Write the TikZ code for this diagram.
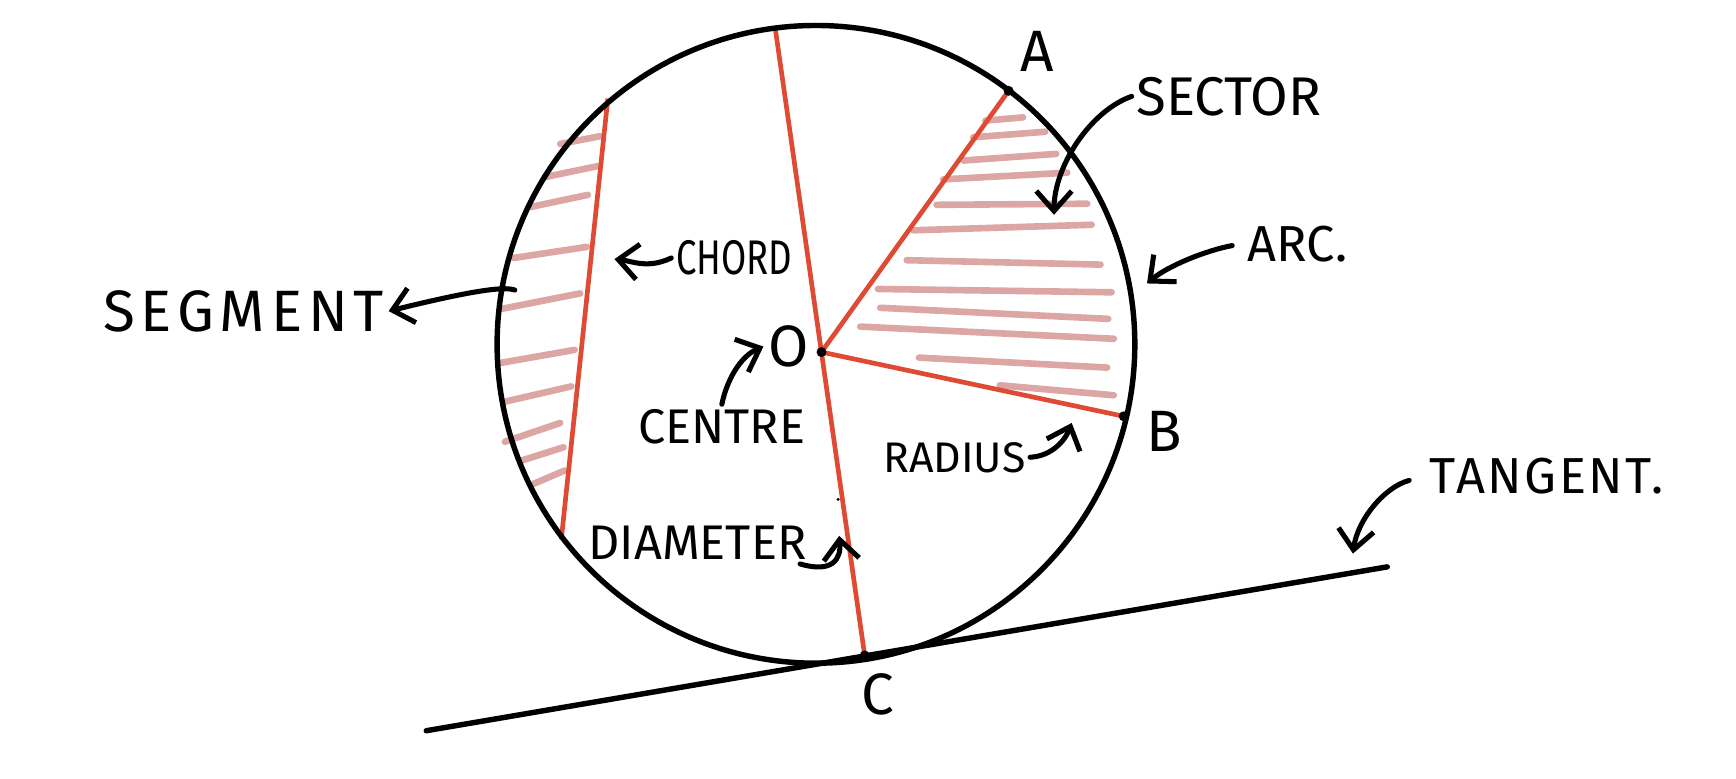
\documentclass[tikz,border=0pt]{standalone}
\usepackage{fontspec}
\setmainfont{Fira Sans}
\usepackage{graphicx}
\usetikzlibrary{arrows.meta}
\definecolor{penred}{HTML}{DE4A33}
\definecolor{hatchpink}{HTML}{DBA6A4}
\tikzstyle{lbl}      = [inner sep=1pt, font=\fontsize{12.5}{14}\selectfont]
\tikzstyle{pointlbl} = [inner sep=1pt, font=\fontsize{15}{17}\selectfont]
\tikzstyle{pointer}  = [line width=1.3pt, line cap=round, ->, >={Straight Barb[length=1.8mm,width=3.2mm]}]
\tikzstyle{redline}  = [penred, line width=1.2pt]
\tikzstyle{hatch}    = [hatchpink, line width=1.7pt, line cap=round]
\tikzstyle{pen}      = [line width=1.4pt, line cap=round]

\begin{document}
\begin{tikzpicture}[x=0.1mm, y=-0.1mm]
		\useasboundingbox (0,0) rectangle (1568,703);

		\coordinate (M) at (737,311);
		\coordinate (O) at (742,318);
		\coordinate (A) at (911,82);
		\coordinate (B) at (1015,376);
		\coordinate (C) at (781,592);
		\coordinate (T) at (700,24);
		\coordinate (P) at (549,89);
		\coordinate (Q) at (507,487);
		\coordinate (tanL) at (385,660);
		\coordinate (tanR) at (1253,512);

		% shading of segment and sector
		\foreach \xa/\ya/\xb/\yb in {506/130/542/123, 492/160/540/150, 479/187/531/176, 464/233/530/223,
			453/279/524/265, 451/328/519/316, 455/363/516/349, 456/399/506/382, 471/416/509/404, 482/437/510/425}
			\draw[hatch] (\xa,\ya) -- (\xb,\yb);
		\foreach \xa/\ya/\xb/\yb in {890/109/924/106, 879/124/944/119, 870/145/954/139, 852/162/964/156,
			846/185/982/184, 825/208/986/203, 819/235/994/239, 793/261/1004/264, 795/278/1001/288,
			777/295/1006/306, 830/323/1000/332, 903/348/1006/357}
			\draw[hatch] (\xa,\ya) -- (\xb,\yb);

		\draw[redline] (T) -- (C);
		\draw[redline] (P) -- (Q);
		\draw[redline] (O) -- (A);
		\draw[redline] (O) -- (B);

		\draw[pen] (M) circle (288);
		\draw[pen] (tanL) -- (tanR);

		\fill (O) circle (4.5);
		\fill (A) circle (4.5);
		\fill (B) circle (4.5);
		\fill (C) circle (4.5);
		\fill (757,451) circle (1.5);

		\node[pointlbl] (alb) at (937,46) {A};
		\node[pointlbl] (blb) at (1052,390) {B};
		\node[pointlbl] (clb) at (793,627) {C};
		\node[pointlbl] (olb) at (712,313) {O};

		\node[lbl, font=\fontsize{15}{17}\selectfont\addfontfeature{LetterSpace=10}] (seg) at (220,281) {SEGMENT};
		\node[lbl] (chord) at (663,233) {\scalebox{0.75}[1]{CHORD}};
		\node[lbl] (centre) at (652,385) {CENTRE};
		\node[lbl, font=\fontsize{11}{13}\selectfont] (radius) at (862,413) {RADIUS};
		\node[lbl] (diam) at (630,490) {DIAMETER};
		\node[lbl, font=\fontsize{14}{16}\selectfont] (sector) at (1110,87) {SECTOR};
		\node[lbl, font=\fontsize{13}{15}\selectfont] (arc) at (1172,220) {ARC.};
		\node[lbl, font=\fontsize{13}{15}\selectfont\addfontfeature{LetterSpace=5}] (tangent) at (1397,430) {TANGENT.};

		\coordinate (segtail) at (465,262);
		\coordinate (chordtip) at (555,234);
		\coordinate (radtip) at (968,382);
		\coordinate (diatip) at (758,484);
		\coordinate (sectip) at (952,194);
		\coordinate (arctip) at (1036,256);
		\coordinate (tantip) at (1222,500);

		\draw[pointer] (segtail) .. controls (455,258) and (420,264) .. (seg.east);
		\draw[pointer] (chord.west) .. controls (585,243) and (572,236) .. (chordtip);
		\draw[pointer] (centre.north) .. controls (656,345) and (668,322) .. (olb.west);
		\draw[pointer] (radius.east) .. controls (950,412) and (962,398) .. (radtip);
		\draw[pointer] ([xshift=-1mm]diam.south east) .. controls (752,518) and (760,505) .. (diatip);
		\draw[pointer] (sector.west) .. controls (985,100) and (952,150) .. (sectip);
		\draw[pointer, shorten <=1mm] (arc.west) .. controls (1090,226) and (1055,240) .. (arctip);
		\draw[pointer, shorten <=1.5mm] (tangent.west) .. controls (1250,440) and (1226,470) .. (tantip);
	\end{tikzpicture}
\end{document}
